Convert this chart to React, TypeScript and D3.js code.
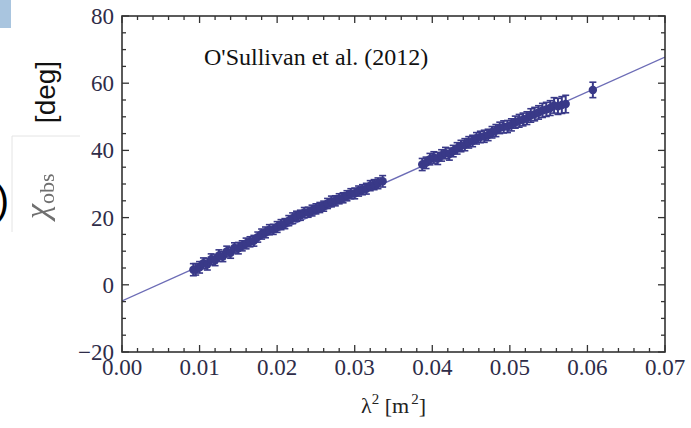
import React from "react";
import * as d3 from "d3";

// ---- data ----
const lambdaSq: number[] = [
  0.0092, 0.0095, 0.0100, 0.0105, 0.0110, 0.0115, 0.0120, 0.0125, 0.0130, 0.0135,
  0.0140, 0.0145, 0.0150, 0.0155, 0.0160, 0.0165, 0.0170, 0.0175, 0.0180, 0.0185,
  0.0190, 0.0195, 0.0200, 0.0205, 0.0210, 0.0215, 0.0220, 0.0225, 0.0230, 0.0235,
  0.0240, 0.0245, 0.0250, 0.0255, 0.0260, 0.0265, 0.0270, 0.0275, 0.0280, 0.0285,
  0.0290, 0.0295, 0.0300, 0.0305, 0.0310, 0.0315, 0.0320, 0.0325, 0.0330, 0.0336,
  0.0387, 0.0392, 0.0397, 0.0402, 0.0407, 0.0412, 0.0417, 0.0422, 0.0427, 0.0432,
  0.0437, 0.0442, 0.0447, 0.0452, 0.0457, 0.0462, 0.0467, 0.0472, 0.0477, 0.0482,
  0.0487, 0.0492, 0.0497, 0.0502, 0.0507, 0.0512, 0.0517, 0.0522, 0.0527, 0.0532,
  0.0537, 0.0542, 0.0547, 0.0552, 0.0557, 0.0562, 0.0567, 0.0572,
  0.0607,
];
const chiObs: number[] = [
  4.5, 4.6, 5.2, 6.4, 6.1, 7.6, 7.3, 8.7, 8.4, 9.9,
  9.5, 11.0, 10.9, 11.6, 12.3, 12.8, 13.1, 14.2, 15.1, 15.6,
  16.4, 16.5, 17.2, 17.9, 18.2, 19.1, 19.8, 20.4, 20.7, 21.5,
  21.6, 22.1, 22.6, 23.0, 23.4, 24.2, 24.8, 25.0, 25.6, 25.9,
  26.5, 27.1, 27.2, 27.9, 28.3, 28.6, 29.5, 29.8, 30.2, 30.8,
  35.8, 36.3, 37.4, 37.9, 37.6, 38.5, 39.2, 38.9, 39.8, 40.6,
  41.3, 41.7, 42.4, 42.8, 43.6, 44.0, 44.2, 44.6, 45.4, 45.9,
  46.7, 47.0, 47.1, 47.6, 48.4, 48.8, 49.2, 49.6, 50.4, 50.8,
  51.3, 51.9, 52.2, 52.6, 53.4, 53.1, 53.5, 53.8,
  58.0,
];
const chiErr: number[] = [
  1.8, 1.7, 1.7, 1.6, 1.7, 1.6, 1.6, 1.7, 1.5, 1.6,
  1.6, 1.5, 1.7, 1.5, 1.6, 1.5, 1.6, 1.5, 1.5, 1.6,
  1.5, 1.5, 1.6, 1.5, 1.5, 1.5, 1.6, 1.5, 1.5, 1.5,
  1.5, 1.6, 1.5, 1.5, 1.5, 1.5, 1.6, 1.5, 1.5, 1.5,
  1.5, 1.5, 1.6, 1.5, 1.5, 1.6, 1.5, 1.5, 1.6, 1.7,
  1.8, 1.7, 1.7, 1.7, 1.8, 1.7, 1.7, 1.8, 1.7, 1.7,
  1.7, 1.8, 1.7, 1.7, 1.7, 1.7, 1.8, 1.7, 1.7, 1.8,
  1.7, 1.8, 1.8, 1.8, 1.8, 1.9, 1.9, 1.9, 2.0, 2.0,
  2.0, 2.1, 2.1, 2.2, 2.3, 2.4, 2.5, 2.6,
  2.3,
];
const fitIntercept = -4.8;
const fitSlope = 1037; // deg per m^2
const xTicks: number[] = [0, 0.01, 0.02, 0.03, 0.04, 0.05, 0.06, 0.07];
const yTicks: number[] = [-20, 0, 20, 40, 60, 80];
const xTickLabels: string[] = ["0.00", "0.01", "0.02", "0.03", "0.04", "0.05", "0.06", "0.07"];
const yTickLabels: string[] = ["\u221220", "0", "20", "40", "60", "80"];
const annotation = "O'Sullivan et al. (2012)";

const W = 691;
const H = 428;
const left = 122, right = 665, top = 16, bottom = 352;

export default function App() {
  const x = d3.scaleLinear().domain([0, 0.07]).range([left, right]);
  const y = d3.scaleLinear().domain([-20, 80]).range([bottom, top]);
  const xMinor = d3.range(0, 0.07001, 0.002);
  const yMinor = d3.range(-20, 80.001, 5);
  const tickCol = "#333";
  const labCol = "#2e2c48";
  const dataCol = "#393988";
  const fitLine = d3.line<number>().x((d) => x(d)).y((d) => y(fitIntercept + fitSlope * d));
  const pts = lambdaSq.map((l, i) => ({ l, c: chiObs[i], e: chiErr[i] }));
  const isMajorX = (v: number) => xTicks.some((t) => Math.abs(t - v) < 1e-6);
  const isMajorY = (v: number) => yTicks.some((t) => Math.abs(t - v) < 1e-6);
  const serif = "'Liberation Serif', 'Times New Roman', serif";
  const sans = "'Liberation Sans', Arial, sans-serif";

  return (
    <svg width={W} height={H} style={{ position: "absolute", left: 0, top: 0, background: "#fff" }}>
      <defs>
        <filter id="soft" x="-20%" y="-20%" width="140%" height="140%">
          <feGaussianBlur stdDeviation="0.7" />
        </filter>
        <clipPath id="plotclip">
          <rect x={left} y={top} width={right - left} height={bottom - top} />
        </clipPath>
      </defs>

      {/* left-side decorations */}
      <rect x={0} y={0} width={11} height={28} fill="#a9c5df" />
      <text
        transform="translate(45,92) rotate(-90)"
        textAnchor="middle"
        dominantBaseline="central"
        fontFamily={sans}
        fontSize={28}
        fill="#111"
      >
        [deg]
      </text>
      <line x1={12} y1={136} x2={80} y2={136} stroke="#e4e4e4" strokeWidth={1} />
      <line x1={12} y1={136} x2={12} y2={232} stroke="#e4e4e4" strokeWidth={1} />
      <g filter="url(#soft)">
        <text transform="translate(48,219) rotate(-90)" fontFamily={serif} fill="#6f6f6f">
          <tspan fontSize={34} fontStyle="italic">χ</tspan>
          <tspan fontSize={22} dy={6}>obs</tspan>
        </text>
      </g>
      <text x={9} y={214} textAnchor="end" fontFamily={sans} fontSize={40} fill="#000">
        )
      </text>

      {/* fit line */}
      <path d={fitLine([0, 0.07]) || ""} stroke="#6c6cb6" strokeWidth={1.4} fill="none" clipPath="url(#plotclip)" />

      {/* data points with error bars */}
      <g fill={dataCol} stroke={dataCol}>
        {pts.map((p, i) => (
          <g key={i}>
            <line x1={x(p.l)} x2={x(p.l)} y1={y(p.c - p.e)} y2={y(p.c + p.e)} strokeWidth={2} />
            <line x1={x(p.l) - 3.5} x2={x(p.l) + 3.5} y1={y(p.c - p.e)} y2={y(p.c - p.e)} strokeWidth={1.6} />
            <line x1={x(p.l) - 3.5} x2={x(p.l) + 3.5} y1={y(p.c + p.e)} y2={y(p.c + p.e)} strokeWidth={1.6} />
            <circle cx={x(p.l)} cy={y(p.c)} r={4.2} stroke="none" />
          </g>
        ))}
      </g>

      {/* frame */}
      <rect x={left} y={top} width={right - left} height={bottom - top} fill="none" stroke={tickCol} strokeWidth={1.6} />

      {/* x ticks (bottom & top, inward) */}
      {xMinor.map((v, i) => {
        const len = isMajorX(v) ? 7 : 4;
        const px = x(v);
        return (
          <g key={"xt" + i} stroke={tickCol} strokeWidth={1.3}>
            <line x1={px} x2={px} y1={bottom} y2={bottom - len} />
            <line x1={px} x2={px} y1={top} y2={top + len} />
          </g>
        );
      })}
      {/* y ticks (left & right, inward) */}
      {yMinor.map((v, i) => {
        const len = isMajorY(v) ? 7 : 4;
        const py = y(v);
        return (
          <g key={"yt" + i} stroke={tickCol} strokeWidth={1.3}>
            <line x1={left} x2={left + len} y1={py} y2={py} />
            <line x1={right} x2={right - len} y1={py} y2={py} />
          </g>
        );
      })}

      {/* tick labels */}
      {xTicks.map((v, i) => (
        <text key={"xl" + i} x={x(v)} y={375} textAnchor="middle" fontFamily={serif} fontSize={23} fill={labCol}>
          {xTickLabels[i]}
        </text>
      ))}
      {yTicks.map((v, i) => (
        <text key={"yl" + i} x={114} y={y(v) + 8} textAnchor="end" fontFamily={serif} fontSize={23} fill={labCol}>
          {yTickLabels[i]}
        </text>
      ))}

      {/* axis label */}
      <text x={(left + right) / 2} y={413} textAnchor="middle" fontFamily={serif} fontSize={22} fill="#222">
        λ<tspan dy={-9} fontSize={15}>2</tspan>
        <tspan dy={9}> [m</tspan>
        <tspan dy={-9} dx={2} fontSize={15}>2</tspan>
        <tspan dy={9}>]</tspan>
      </text>

      {/* annotation */}
      <text x={204} y={65} fontFamily={serif} fontSize={24} fill="#111">
        {annotation}
      </text>
    </svg>
  );
}
